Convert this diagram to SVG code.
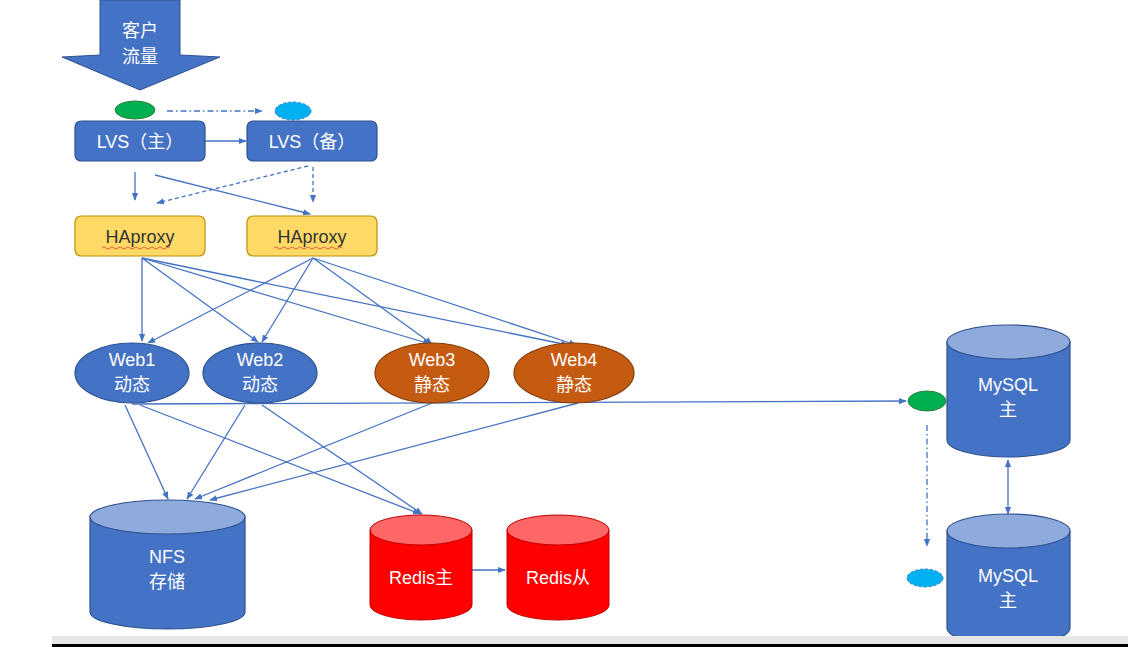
<svg xmlns="http://www.w3.org/2000/svg" width="1142" height="655" viewBox="0 0 1142 655">
<defs>
<marker id="a" viewBox="0 0 10 10" refX="9" refY="5" markerWidth="6" markerHeight="6" orient="auto-start-reverse"><path d="M0,1 L10,5 L0,9 z" fill="#4472C4"/></marker>
<style>
.c{stroke:#4472C4;stroke-width:1.3;fill:none;marker-end:url(#a)}
.d{stroke-dasharray:4,3}
.dd{stroke-dasharray:6,3,1.5,3}
.b{fill:#4472C4;stroke:#2F528F;stroke-width:1.2}
.bt{fill:#8FAADC;stroke:#2F528F;stroke-width:1.2}
.t{font-family:"Liberation Sans","Noto Sans CJK SC",sans-serif;font-size:18px;fill:#fff;text-anchor:middle}
.h{fill:#FFD966;stroke:#BF9000;stroke-width:1.2}
</style>
</defs>
<rect width="1142" height="655" fill="#fff"/>
<g id="connectors">
<path class="c dd" d="M167,111 L262,111"/>
<path class="c" d="M205,141 L246,141"/>
<path class="c" d="M135,172 L135,200"/>
<path class="c" d="M155,175 L310,214"/>
<path class="c d" d="M308,166 L157,203"/>
<path class="c d" d="M313,167 L313,202"/>
<path class="c" d="M142,258 L142,341"/>
<path class="c" d="M142,258 L258,342"/>
<path class="c" d="M142,258 L430,344"/>
<path class="c" d="M142,258 L568,345"/>
<path class="c" d="M313,258 L148,343"/>
<path class="c" d="M313,258 L262,342"/>
<path class="c" d="M313,258 L432,344"/>
<path class="c" d="M313,258 L576,345"/>
<path class="c" d="M132,404 L906,401"/>
<path class="c" d="M125,405 L168,499"/>
<path class="c" d="M140,405 L420,514"/>
<path class="c" d="M245,405 L187,499"/>
<path class="c" d="M262,405 L422,514"/>
<path class="c" d="M432,403 L195,499"/>
<path class="c" d="M578,403 L210,500"/>
<path class="c" d="M472,570 L505,570"/>
<path class="c" d="M1008,460 L1008,514" marker-start="url(#a)"/>
<path class="c dd" d="M927,425 L927,546"/>
</g>
<g id="traffic">
<polygon points="100,0 180,0 180,55 220,57 140,90 62,57 100,55" fill="#4472C4" stroke="#2F528F"/>
<text class="t" x="140" y="37">客户</text>
<text class="t" x="140" y="63">流量</text>
</g>
<g id="vip1"><ellipse cx="135" cy="110" rx="20" ry="9" fill="#00B050" stroke="#2F7F3F"/></g>
<g id="vip2"><ellipse cx="293" cy="111" rx="18" ry="9" fill="#00B0F0" stroke="#2F86C4" stroke-dasharray="3,2"/></g>
<g id="lvs1"><rect class="b" x="75" y="121" width="130" height="40" rx="6"/><text class="t" x="140" y="148">LVS（主）</text></g>
<g id="lvs2"><rect class="b" x="247" y="121" width="130" height="40" rx="6"/><text class="t" x="312" y="148">LVS（备）</text></g>
<g id="ha1"><rect class="h" x="75" y="216" width="130" height="40" rx="6"/><text class="t" x="140" y="243" style="fill:#333">HAproxy</text><path d="M102,248 q2,-2 4,0 t4,0 t4,0 t4,0 t4,0 t4,0 t4,0 t4,0 t4,0 t4,0 t4,0 t4,0 t4,0 t4,0 t4,0 t4,0 t4,0" stroke="#E04040" fill="none" stroke-width="0.8"/></g>
<g id="ha2"><rect class="h" x="247" y="216" width="130" height="40" rx="6"/><text class="t" x="312" y="243" style="fill:#333">HAproxy</text><path d="M274,248 q2,-2 4,0 t4,0 t4,0 t4,0 t4,0 t4,0 t4,0 t4,0 t4,0 t4,0 t4,0 t4,0 t4,0 t4,0 t4,0 t4,0 t4,0" stroke="#E04040" fill="none" stroke-width="0.8"/></g>
<g id="web1"><ellipse class="b" cx="132" cy="373" rx="57" ry="30"/><text class="t" x="132" y="366">Web1</text><text class="t" x="132" y="391">动态</text></g>
<g id="web2"><ellipse class="b" cx="260" cy="373" rx="57" ry="30"/><text class="t" x="260" y="366">Web2</text><text class="t" x="260" y="391">动态</text></g>
<g id="web3"><ellipse cx="432" cy="373" rx="57" ry="30" fill="#C55A11" stroke="#843C0C" stroke-width="1.2"/><text class="t" x="432" y="366">Web3</text><text class="t" x="432" y="391">静态</text></g>
<g id="web4"><ellipse cx="574" cy="373" rx="60" ry="30" fill="#C55A11" stroke="#843C0C" stroke-width="1.2"/><text class="t" x="574" y="366">Web4</text><text class="t" x="574" y="391">静态</text></g>
<g id="nfs"><path class="b" d="M90,517 L90,612 A77.5,17 0 0 0 245,612 L245,517 Z"/><ellipse class="bt" cx="167.5" cy="517" rx="77.5" ry="17"/><text class="t" x="167" y="563">NFS</text><text class="t" x="167" y="588">存储</text></g>
<g id="redis1"><path d="M370,530 L370,605 A51,15 0 0 0 472,605 L472,530 Z" fill="#FF0000" stroke="#C00000"/><ellipse cx="421" cy="530" rx="51" ry="15" fill="#FF6666" stroke="#C00000"/><text class="t" x="421" y="584">Redis主</text></g>
<g id="redis2"><path d="M507,530 L507,605 A51,15 0 0 0 609,605 L609,530 Z" fill="#FF0000" stroke="#C00000"/><ellipse cx="558" cy="530" rx="51" ry="15" fill="#FF6666" stroke="#C00000"/><text class="t" x="558" y="584">Redis从</text></g>
<g id="vip3"><ellipse cx="927" cy="401" rx="19" ry="10" fill="#00B050" stroke="#2F7F3F"/></g>
<g id="vip4"><ellipse cx="925" cy="578" rx="18" ry="9" fill="#00B0F0" stroke="#2F86C4" stroke-dasharray="3,2"/></g>
<g id="mysql1"><path class="b" d="M947,342 L947,440 A61.5,17 0 0 0 1070,440 L1070,342 Z"/><ellipse class="bt" cx="1008.5" cy="342" rx="61.5" ry="17"/><text class="t" x="1008" y="391">MySQL</text><text class="t" x="1008" y="416">主</text></g>
<g id="mysql2"><path class="b" d="M947,531 L947,628 A61.5,17 0 0 0 1070,628 L1070,531 Z"/><ellipse class="bt" cx="1008.5" cy="531" rx="61.5" ry="17"/><text class="t" x="1008" y="582">MySQL</text><text class="t" x="1008" y="607">主</text></g>
<rect x="52" y="636" width="1076" height="8" fill="#E6E6E6"/>
<rect x="52" y="644" width="1076" height="3" fill="#000"/>
</svg>
